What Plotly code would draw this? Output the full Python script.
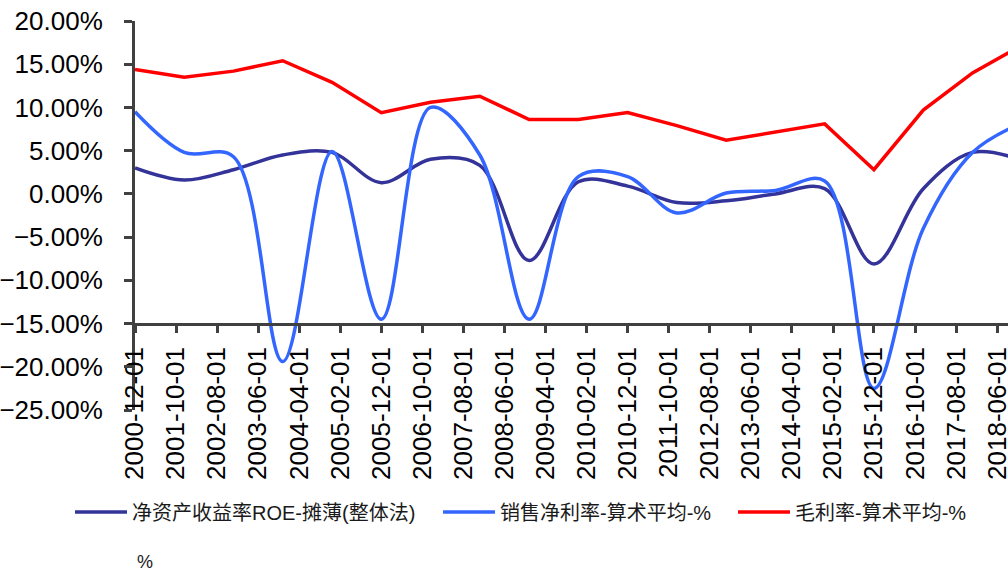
import plotly.graph_objects as go

years = list(range(2000, 2019))
dates = [f"{y}-12-01" for y in years]

roe = [3.0, 1.6, 2.8, 4.5, 4.8, 1.3, 4.0, 3.3, -7.7, 1.4, 0.9, -1.0, -0.8, 0.0, 0.6, -8.1, 0.6, 4.8, 3.9]
net_margin = [9.5, 4.8, 4.3, -19.4, 4.9, -14.5, 10.0, 4.5, -14.5, 2.0, 2.0, -2.2, 0.1, 0.4, 1.5, -22.5, -4.0, 4.8, 8.2]
gross_margin = [14.4, 13.5, 14.2, 15.4, 12.9, 9.4, 10.6, 11.3, 8.6, 8.6, 9.4, 7.9, 6.2, 7.1, 8.1, 2.8, 9.7, 14.0, 17.2]

tick_labels = ["2000-12-01", "2001-10-01", "2002-08-01", "2003-06-01", "2004-04-01",
               "2005-02-01", "2005-12-01", "2006-10-01", "2007-08-01", "2008-06-01",
               "2009-04-01", "2010-02-01", "2010-12-01", "2011-10-01", "2012-08-01",
               "2013-06-01", "2014-04-01", "2015-02-01", "2015-12-01", "2016-10-01",
               "2017-08-01", "2018-06-01"]

series_names = ["净资产收益率ROE-摊薄(整体法)", "销售净利率-算术平均-%", "毛利率-算术平均-%"]
colors = ["#333399", "#3366FF", "#FF0000"]

FONT = "Liberation Sans, Arial, Noto Sans CJK SC, sans-serif"

fig = go.Figure()
fig.add_trace(go.Scatter(x=dates, y=roe, name=series_names[0], mode="lines", legend="legend",
                         line=dict(color=colors[0], width=3.5, shape="spline", smoothing=1.0)))
fig.add_trace(go.Scatter(x=dates, y=net_margin, name=series_names[1], mode="lines", legend="legend2",
                         line=dict(color=colors[1], width=3.5, shape="spline", smoothing=1.0)))
fig.add_trace(go.Scatter(x=dates, y=gross_margin, name=series_names[2], mode="lines", legend="legend3",
                         line=dict(color=colors[2], width=3.5)))

y_min, y_max, x_cross = -25, 20, -15


def legend_at(left_px):
    return dict(orientation="h", xref="container", yref="container",
                x=left_px / 1008, y=1 - 512 / 572, xanchor="left", yanchor="middle",
                bgcolor="rgba(0,0,0,0)",
                font=dict(size=20, color="#1a1a1a", family=FONT),
                itemwidth=52)


fig.update_layout(
    width=1008, height=572,
    margin=dict(l=135, r=0, t=21, b=162, autoexpand=False),
    paper_bgcolor="white", plot_bgcolor="white",
    font=dict(family=FONT, color="#000000"),
    showlegend=True,
    legend=legend_at(70),
    legend2=legend_at(438),
    legend3=legend_at(733),
    xaxis=dict(type="date", range=["2000-12-01", "2018-08-21"],
               tickmode="array", tickvals=tick_labels, ticktext=tick_labels,
               tickangle=-90, tickfont=dict(size=26, family=FONT, color="#000000"),
               showgrid=False, zeroline=False, automargin=False,
               ticklabeloverflow="allow",
               showline=True, linecolor="#404040", linewidth=3,
               ticks="outside", ticklen=7, tickwidth=3, tickcolor="#404040",
               anchor="free", position=(x_cross - y_min) / (y_max - y_min),
               ticklabelstandoff=4),
    yaxis=dict(range=[y_min, y_max], tickmode="linear", tick0=-25, dtick=5,
               tickformat=".2f", ticksuffix="%",
               tickfont=dict(size=26, family=FONT, color="#000000"),
               showgrid=False, zeroline=False, automargin=False,
               showline=True, linecolor="#404040", linewidth=3,
               ticks="outside", ticklen=8, tickwidth=3, tickcolor="#404040",
               ticklabelstandoff=16),
    annotations=[dict(text="%", xref="paper", yref="paper", x=(145 - 135) / 873, y=(410 - 562) / 389,
                      showarrow=False, font=dict(size=18, family=FONT, color="#1a1a1a"),
                      xanchor="center", yanchor="middle")],
)

fig.write_html("out.html", config={"displayModeBar": False},
               post_script="document.body.style.margin='0';document.body.style.overflow='hidden';")
